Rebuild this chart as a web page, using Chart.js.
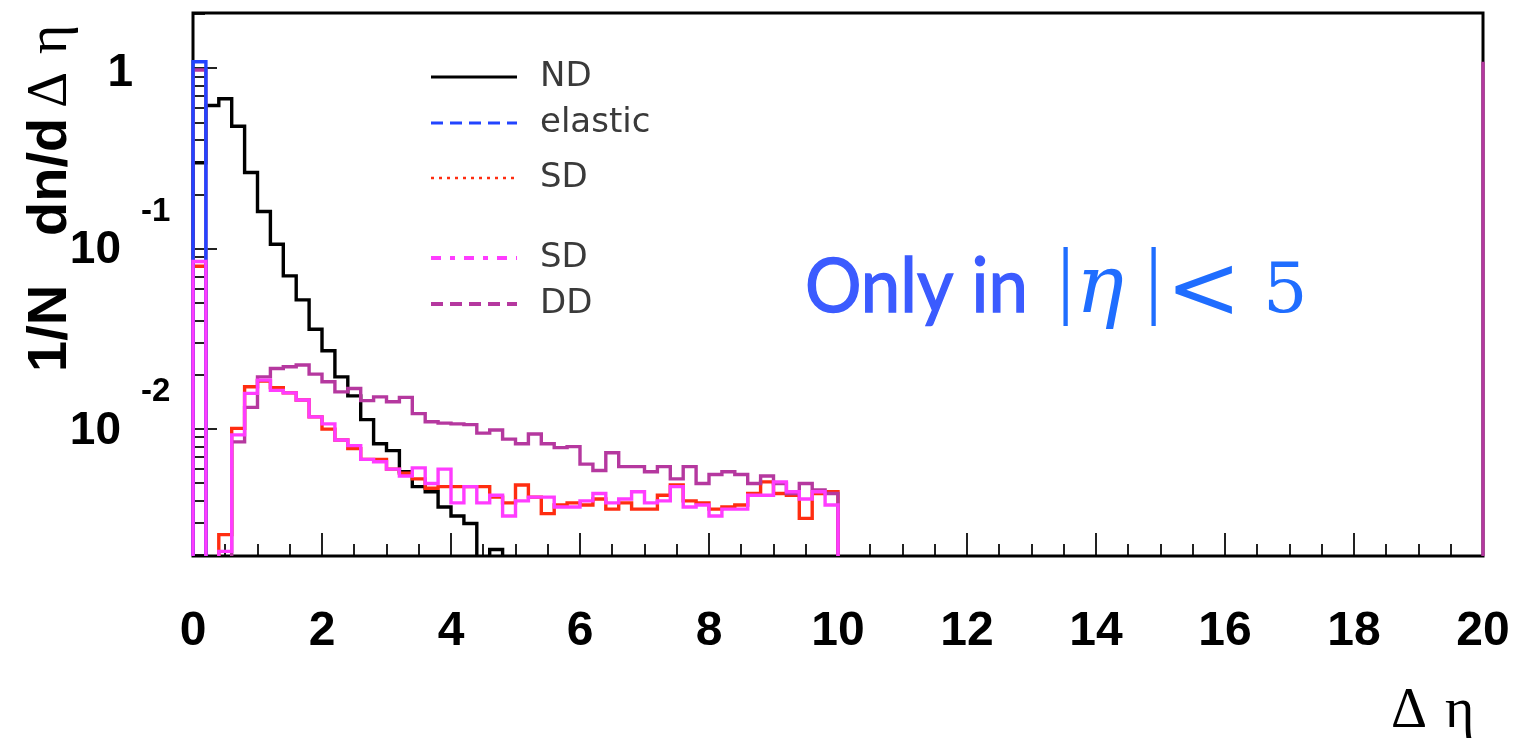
<!DOCTYPE html>
<html><head><meta charset="utf-8">
<script src="https://cdn.jsdelivr.net/npm/chart.js@4.4.1/dist/chart.umd.min.js"></script>
<style>html,body{margin:0;padding:0;background:#fff;}canvas{display:block;}</style>
</head><body>
<canvas id="c" width="1517" height="738"></canvas>
<script>
// ---------- data (Δη histograms, bin width 0.2) ----------
const BIN_WIDTH = 0.2;
const binStart = [0.0,0.2,0.4,0.6,0.8,1.0,1.2,1.4,1.6,1.8,2.0,2.2,2.4,2.6,2.8,3.0,3.2,3.4,3.6,3.8,
  4.0,4.2,4.4,4.6,4.8,5.0,5.2,5.4,5.6,5.8,6.0,6.2,6.4,6.6,6.8,7.0,7.2,7.4,7.6,7.8,
  8.0,8.2,8.4,8.6,8.8,9.0,9.2,9.4,9.6,9.8];
const seriesLabels = ['ND', 'elastic', 'SD', 'SD', 'DD'];
const ndValues = [0.30,0.623,0.679,0.478,0.265,0.161,0.106,0.0708,0.0521,0.0358,
  0.0272,0.0195,0.0153,0.0113,0.0083,0.0076,0.0058,0.0048,0.0045,0.0037,
  0.0033,0.0030,0,0.00215];
const elasticValues = [1.09];
const sdRedValues = [0.080,0,0.0026,0.0101,0.0172,0.0185,0.0170,0.0159,0.0145,0.0117,
  0.0100,0.0087,0.0078,0.0068,0.0068,0.0060,0.0057,0.0053,0.0047,0.0048,
  0.0048,0.0048,0.0048,0.0042,0.0039,0.0049,0.0042,0.0034,0.0038,0.0039,
  0.0038,0.0041,0.0036,0.0039,0.0036,0.0036,0.0043,0.0049,0.0040,0.0039,
  0.0036,0.0037,0.0038,0.0044,0.0051,0.0044,0.0043,0.0032,0.0044,0.0045];
const sdPinkValues = [0.085,0,0.0021,0.0093,0.0158,0.0187,0.0164,0.0159,0.0145,0.0117,
  0.0107,0.0087,0.0081,0.0068,0.0066,0.0060,0.0055,0.0061,0.0050,0.0060,
  0.0039,0.0048,0.0039,0.0043,0.0033,0.0040,0.0042,0.0042,0.0037,0.0037,
  0.0040,0.0044,0.0039,0.0041,0.0045,0.0039,0.0040,0.0048,0.0037,0.0038,
  0.0033,0.0036,0.0036,0.0043,0.0043,0.0051,0.0045,0.0041,0.0045,0.0038];
const ddValues = [0.98,0,0,0.0085,0.0132,0.0195,0.0217,0.0222,0.0227,0.0202,
  0.0183,0.0161,0.0168,0.0144,0.0151,0.0142,0.0150,0.0122,0.0110,0.0108,
  0.0107,0.0106,0.0095,0.0099,0.0088,0.0083,0.0094,0.0083,0.0079,0.0080,
  0.0064,0.0059,0.0074,0.0062,0.0062,0.0058,0.0062,0.0053,0.0062,0.0050,
  0.0056,0.0058,0.0056,0.0050,0.0055,0.0050,0.0044,0.0050,0.0046,0.0044];
const ddUpperEdgeValue = 1.09;   // closing edge of DD histogram at Δη = 20
const xTickLabels = [0,2,4,6,8,10,12,14,16,18,20];
const yMajorTicks = [1, 0.1, 0.01];
const yTickBase = ['1', '10', '10'];
const yTickExp = ['', '-1', '-2'];

// ---------- axis settings ----------
const X_MIN = 0, X_MAX = 20, X_MINOR = 0.5, X_MAJOR = 2;
const Y_MIN = 0.00198, Y_MAX = 2.03;
const BELOW_AXIS = 1e-4;

function histogramPoints(values) {
  const pts = [{ x: binStart[0], y: BELOW_AXIS }];
  values.forEach((v, i) => pts.push({ x: binStart[i], y: v > 0 ? v : BELOW_AXIS }));
  pts.push({ x: binStart[values.length - 1] + BIN_WIDTH, y: BELOW_AXIS });
  return pts;
}
const ddPoints = histogramPoints(ddValues);
ddPoints.push({ x: X_MAX, y: ddUpperEdgeValue });

const colors = ['#000000', '#2244ff', '#ff2d10', '#ff3cff', '#b5389f'];
const legendDash = [[], [12, 7], [3, 5], [10, 9, 5, 9], [12, 7]];
const legendWidth = [3, 3, 2.5, 4, 4];
const clipBox = { left: 4, top: 4, right: 4, bottom: 0 };

function ds(i, pts, order) {
  return { label: seriesLabels[i], data: pts, borderColor: colors[i], borderWidth: 3.4,
    stepped: true, pointRadius: 0, fill: false, tension: 0, order: order, clip: clipBox,
    borderCapStyle: 'butt', borderJoinStyle: 'miter' };
}

const frameTicks = {
  id: 'frameTicks',
  beforeDatasetsDraw(chart) {
    const { ctx, chartArea: a, scales: { x, y } } = chart;
    ctx.save();
    ctx.strokeStyle = '#222';
    ctx.lineWidth = 2;
    const nMinor = Math.round((X_MAX - X_MIN) / X_MINOR);
    for (let k = 0; k <= nMinor; k++) {
      const v = X_MIN + k * X_MINOR;
      const major = Math.abs(v / X_MAJOR - Math.round(v / X_MAJOR)) < 1e-6;
      const px = Math.round(x.getPixelForValue(v));
      ctx.beginPath(); ctx.moveTo(px, a.bottom); ctx.lineTo(px, a.bottom - (major ? 23 : 12)); ctx.stroke();
    }
    for (let e = -3; e <= 0; e++) {
      for (let m = 1; m <= 9; m++) {
        const v = m * Math.pow(10, e);
        if (v < Y_MIN || v > Y_MAX) continue;
        const py = Math.round(y.getPixelForValue(v));
        ctx.beginPath(); ctx.moveTo(a.left, py); ctx.lineTo(a.left + (m === 1 ? 24 : 12), py); ctx.stroke();
      }
    }
    ctx.strokeStyle = '#000';
    ctx.lineWidth = 3;
    ctx.strokeRect(a.left, a.top, a.right - a.left, a.bottom - a.top);
    ctx.restore();
  }
};

const overlayText = {
  id: 'overlayText',
  afterDraw(chart) {
    const { ctx, chartArea: a, scales: { y } } = chart;
    ctx.save();
    // y tick labels (ROOT style exponents)
    ctx.fillStyle = '#000';
    yMajorTicks.forEach((v, i) => {
      const py = y.getPixelForValue(v);
      ctx.textBaseline = 'middle';
      if (!yTickExp[i]) {
        ctx.textAlign = 'right';
        ctx.font = 'bold 46px "Liberation Sans"';
        ctx.fillText(yTickBase[i], a.left - 60, py + 5);
      } else {
        ctx.textAlign = 'right';
        ctx.font = 'bold 46px "Liberation Sans"';
        ctx.fillText(yTickBase[i], a.left - 72, py + 2);
        ctx.textAlign = 'left';
        ctx.font = 'bold 33px "Liberation Sans"';
        ctx.fillText(yTickExp[i], a.left - 52, py - 37);
      }
    });
    // y-axis title (rotated)
    ctx.save();
    ctx.translate(66, 0);
    ctx.rotate(-Math.PI / 2);
    ctx.textAlign = 'left';
    ctx.textBaseline = 'alphabetic';
    ctx.font = 'bold 56px "Liberation Sans"';
    ctx.fillText('1/N', -372, 0);
    ctx.fillText('dn/d', -236, 0);
    ctx.font = '56px "Liberation Serif"';
    ctx.fillText('Δ', -108, 0);
    ctx.fillText('η', -54, 0);
    ctx.restore();
    // x-axis title
    ctx.textAlign = 'left';
    ctx.textBaseline = 'alphabetic';
    ctx.font = '56px "Liberation Serif"';
    ctx.fillText('Δ', 1391, 727);
    ctx.fillText('η', 1445, 727);
    // legend
    const rowY = [77, 123, 178, 258, 304];
    chart.data.datasets.forEach((d, i) => {
      ctx.save();
      ctx.strokeStyle = d.borderColor;
      ctx.lineWidth = legendWidth[i];
      ctx.setLineDash(legendDash[i]);
      ctx.beginPath(); ctx.moveTo(431, rowY[i]); ctx.lineTo(517, rowY[i]); ctx.stroke();
      ctx.restore();
      ctx.fillStyle = '#3a3a3a';
      ctx.font = '34px "DejaVu Sans"';
      ctx.textBaseline = 'middle';
      ctx.textAlign = 'left';
      ctx.fillText(d.label, 540, rowY[i]);
    });
    // annotation
    ctx.textBaseline = 'alphabetic';
    ctx.textAlign = 'left';
    ctx.fillStyle = '#3b5bff';
    ctx.save();
    ctx.translate(805, 312);
    ctx.scale(0.93, 1);
    ctx.font = 'bold 76px Lato';
    ctx.globalAlpha = 1;
    ctx.font = '76px Lato';
    ctx.lineWidth = 1.5;
    ctx.strokeStyle = '#3b5bff';
    ctx.strokeText('Only in', 0, 0);
    ctx.fillText('Only in', 0, 0);
    ctx.restore();
    ctx.fillStyle = '#1f6dff';
    ctx.font = '86px "Liberation Serif"';
    ctx.fillText('|', 1057, 307);
    ctx.font = 'italic 80px "DejaVu Serif"';
    ctx.fillText('η', 1076, 312);
    ctx.font = '86px "Liberation Serif"';
    ctx.fillText('|', 1145, 307);
    ctx.font = '90px "DejaVu Serif"';
    ctx.fillText('<', 1166, 318);
    ctx.font = '70px "DejaVu Serif"';
    ctx.fillText('5', 1263, 312);
    ctx.restore();
  }
};

new Chart(document.getElementById('c'), {
  type: 'line',
  data: {
    datasets: [
      ds(0, histogramPoints(ndValues), 4),
      ds(1, histogramPoints(elasticValues), 1),
      ds(2, histogramPoints(sdRedValues), 3),
      ds(3, histogramPoints(sdPinkValues), 0),
      ds(4, ddPoints, 2)
    ]
  },
  options: {
    responsive: false, animation: false, devicePixelRatio: 1,
    layout: { padding: { top: 13, right: 34, left: 0, bottom: 0 } },
    plugins: { legend: { display: false }, tooltip: { enabled: false } },
    scales: {
      x: { type: 'linear', min: X_MIN, max: X_MAX,
        grid: { display: false }, border: { display: false },
        ticks: { stepSize: X_MAJOR, maxRotation: 0, autoSkip: false, padding: 39, color: '#000',
          font: { family: 'Liberation Sans', size: 48, weight: 'bold' },
          callback: (v) => xTickLabels.includes(v) ? String(v) : '' },
        afterFit: (s) => { s.height = 182; s.paddingLeft = 0; s.paddingRight = 0; } },
      y: { type: 'logarithmic', min: Y_MIN, max: Y_MAX,
        grid: { display: false }, border: { display: false },
        ticks: { display: false },
        afterFit: (s) => { s.width = 193; s.paddingTop = 0; s.paddingBottom = 0; } }
    }
  },
  plugins: [frameTicks, overlayText]
});
</script>
</body></html>
